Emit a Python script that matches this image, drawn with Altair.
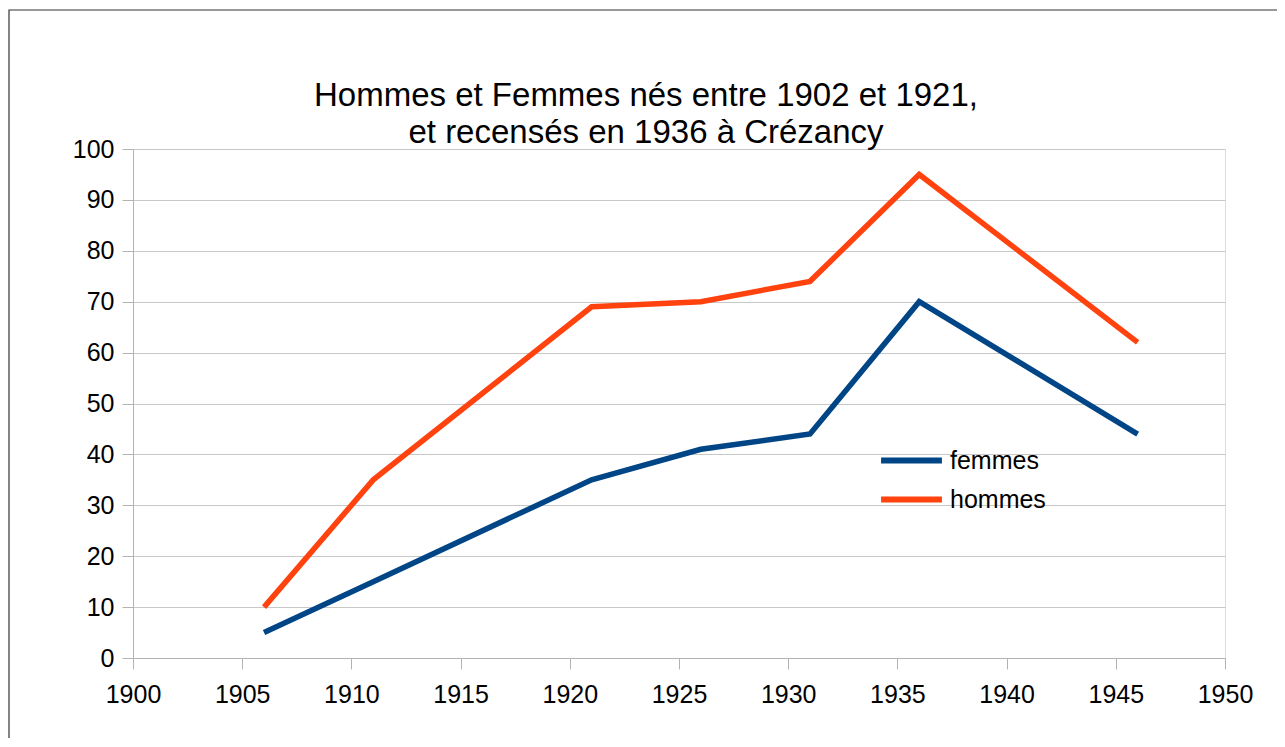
import altair as alt
import pandas as pd

years = [1906, 1911, 1921, 1926, 1931, 1936, 1946]
femmes = [5, 15, 35, 41, 44, 70, 44]
hommes = [10, 35, 69, 70, 74, 95, 62]
series_names = ["femmes", "hommes"]
series_colors = ["#004586", "#ff420e"]
x_ticks = [1900, 1905, 1910, 1915, 1920, 1925, 1930, 1935, 1940, 1945, 1950]
y_ticks = [0, 10, 20, 30, 40, 50, 60, 70, 80, 90, 100]
title_lines = ["Hommes et Femmes nés entre 1902 et 1921,", "et recensés en 1936 à Crézancy"]

rows = []
for name, vals in zip(series_names, [femmes, hommes]):
    for i, (yr, v) in enumerate(zip(years, vals)):
        rows.append({"annee": yr, "valeur": v, "serie": name, "ordre": i})
df = pd.DataFrame(rows)

FONT = "Liberation Sans"

lines = alt.Chart(df).mark_line(strokeWidth=5.5, strokeCap="butt", strokeJoin="miter").encode(
    x=alt.X("annee:Q",
            scale=alt.Scale(domain=[1900, 1950], nice=False, zero=False),
            axis=alt.Axis(values=x_ticks, format="d", title=None, grid=False,
                          domainColor="#b3b3b3", tickColor="#b3b3b3", tickSize=11,
                          labelFontSize=25, labelFont=FONT, labelColor="#000000",
                          labelPadding=13, labelFlush=False, labelOverlap=False)),
    y=alt.Y("valeur:Q",
            scale=alt.Scale(domain=[0, 100], nice=False),
            axis=alt.Axis(values=y_ticks, title=None, grid=True, gridColor="#c8c8c8",
                          domainColor="#b3b3b3", tickColor="#b3b3b3", tickSize=11,
                          labelFontSize=25, labelFont=FONT, labelColor="#000000",
                          labelPadding=8, labelFlush=False, labelOverlap=False)),
    color=alt.Color("serie:N",
                    scale=alt.Scale(domain=series_names, range=series_colors),
                    legend=alt.Legend(title=None, orient="none", legendX=745, legendY=299,
                                      symbolType="stroke", symbolSize=3700,
                                      symbolStrokeWidth=6, clipHeight=25,
                                      labelFontSize=25, labelFont=FONT, labelColor="#000000",
                                      labelOffset=5, rowPadding=13, padding=0)),
    order="ordre:Q",
)

border = alt.Chart(alt.Data(values=[{}])).mark_rect(
    fill=None, fillOpacity=0, stroke="#333333", strokeWidth=1.2
).encode(
    x=alt.value(-124), x2=alt.value(1200),
    y=alt.value(-139), y2=alt.value(640),
)

title = alt.Chart(alt.Data(values=[{}])).mark_text(
    text=title_lines, font=FONT, fontSize=33, color="#000000", align="center",
    baseline="alphabetic", lineHeight=37
).encode(
    x=alt.value(513), y=alt.value(-43),
)

chart = alt.layer(border, title, lines).properties(
    width=1092,
    height=509,
    autosize=alt.AutoSizeParams(type="none"),
    padding={"left": 125, "top": 141, "right": 52, "bottom": 80},
).configure_view(stroke="#b3b3b3", strokeWidth=1).configure(background="white")

chart.save("out.html", embed_options={"renderer": "svg", "actions": False})
